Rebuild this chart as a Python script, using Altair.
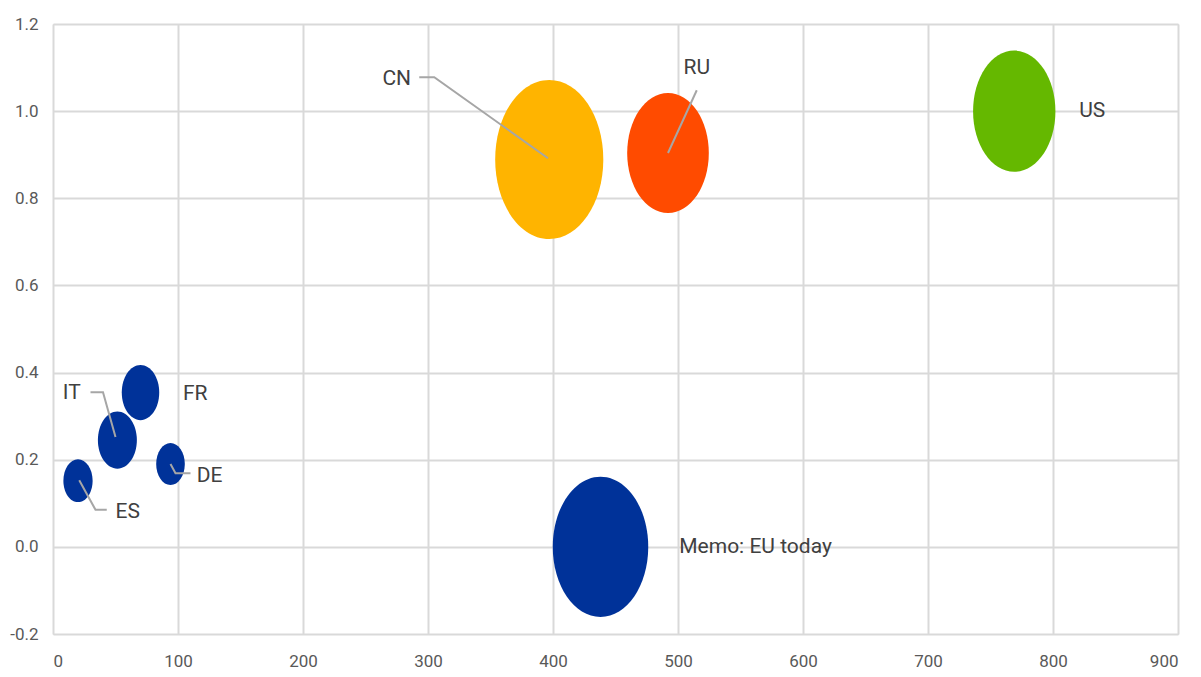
import altair as alt
import pandas as pd

# Bubble data
countries = ["CN", "RU", "US", "Memo: EU today", "FR", "IT", "DE", "ES"]
x_vals = [397, 492, 769, 438, 70, 51.5, 94, 20]
y_vals = [0.889, 0.904, 1.0, 0.0, 0.354, 0.245, 0.19, 0.152]
weights = [100, 57, 58, 78, 12, 13, 7, 7.3]
colors = ["#FFB400", "#FF4B00", "#65B800", "#003299", "#003299", "#003299", "#003299", "#003299"]

# Labels (data coordinates)
label_text = ["CN", "RU", "US", "Memo: EU today", "FR", "IT", "DE", "ES"]
label_x = [275, 515, 821, 501, 104, 15, 115, 50]
label_y = [1.074, 1.10, 1.0, 0.0, 0.351, 0.353, 0.163, 0.080]
label_align = ["center", "center", "left", "left", "left", "center", "left", "left"]

# Leader lines (data coordinates)
lead_id = ["CN", "CN", "CN", "RU", "RU", "IT", "IT", "IT", "DE", "DE", "DE", "ES", "ES", "ES"]
lead_x = [293, 305, 396, 515, 492, 30, 40, 50, 94, 98, 110, 21, 34, 43]
lead_y = [1.078, 1.078, 0.892, 1.048, 0.904, 0.355, 0.355, 0.252, 0.19, 0.169, 0.169, 0.153, 0.085, 0.085]
lead_order = [0, 1, 2, 0, 1, 0, 1, 2, 0, 1, 2, 0, 1, 2]

x_ticks = [0, 100, 200, 300, 400, 500, 600, 700, 800, 900]
y_ticks = [-0.2, 0.0, 0.2, 0.4, 0.6, 0.8, 1.0, 1.2]

bubbles = pd.DataFrame({"country": countries, "x": x_vals, "y": y_vals, "w": weights, "c": colors})
labels = pd.DataFrame({"t": label_text, "x": label_x, "y": label_y, "a": label_align})
leads = pd.DataFrame({"id": lead_id, "x": lead_x, "y": lead_y, "o": lead_order})

FONT = "Roboto"
TXT = "#404040"

xscale = alt.Scale(domain=[0, 900], nice=False, zero=False)
yscale = alt.Scale(domain=[-0.2, 1.2], nice=False, zero=False)

xaxis = alt.Axis(values=x_ticks, grid=True, gridColor="#d9d9d9", gridWidth=2, domain=False,
                 ticks=False, labelFont=FONT, labelFontSize=17, labelColor="#595959",
                 labelPadding=19, title=None, format="d")
yaxis = alt.Axis(values=y_ticks, grid=True, gridColor="#d9d9d9", gridWidth=2, domain=False,
                 ticks=False, labelFont=FONT, labelFontSize=17, labelColor="#595959",
                 labelPadding=15, title=None,
                 labelExpr="datum.value < 0 ? '-' + format(-datum.value, '.1f') : format(datum.value, '.1f')")

ellipse = "M0,-1 A0.68,1 0 1,1 0,1 A0.68,1 0 1,1 0,-1 Z"

bub = alt.Chart(bubbles).mark_point(shape=ellipse, filled=True, opacity=1, strokeWidth=0).encode(
    x=alt.X("x:Q", scale=xscale, axis=xaxis),
    y=alt.Y("y:Q", scale=yscale, axis=yaxis),
    size=alt.Size("w:Q", scale=alt.Scale(domain=[0, 100], range=[0, 25281], zero=True), legend=None),
    color=alt.Color("c:N", scale=None),
)

lines = alt.Chart(leads).mark_line(color="#a6a6a6", strokeWidth=2).encode(
    x=alt.X("x:Q", scale=xscale),
    y=alt.Y("y:Q", scale=yscale),
    detail="id:N",
    order="o:Q",
)

def txt(align):
    return alt.Chart(labels).transform_filter(alt.datum.a == align).mark_text(
        font=FONT, fontSize=21, color=TXT, align=align, baseline="middle"
    ).encode(
        x=alt.X("x:Q", scale=xscale),
        y=alt.Y("y:Q", scale=yscale),
        text="t:N",
    )

chart = alt.layer(bub, lines, txt("center"), txt("left")).properties(
    width=1125, height=610,
    padding={"left": 53, "top": 24, "right": 23, "bottom": 43},
    autosize="none",
).configure_view(stroke=None).configure(background="white")

chart.save("out.html", embed_options={"renderer": "svg", "actions": False})
